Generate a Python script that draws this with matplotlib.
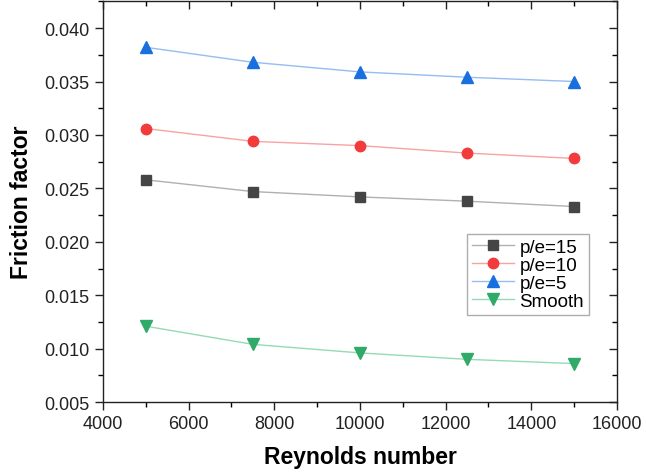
import matplotlib
matplotlib.use("Agg")
import matplotlib.pyplot as plt
from matplotlib.lines import TICKDOWN, TICKLEFT
from matplotlib.ticker import MultipleLocator

plt.rcParams['font.family'] = ['Liberation Sans', 'DejaVu Sans']

# Data
reynolds = [5000, 7500, 10000, 12500, 15000]
f_pe15 = [0.0258, 0.0247, 0.0242, 0.0238, 0.0233]
f_pe10 = [0.0306, 0.0294, 0.0290, 0.0283, 0.0278]
f_pe5 = [0.0382, 0.0368, 0.0359, 0.0354, 0.0350]
f_smooth = [0.0121, 0.0104, 0.0096, 0.0090, 0.0086]

series = [
    ("p/e=15", f_pe15, "s", 7, "#454545", "#b0b0b0"),
    ("p/e=10", f_pe10, "o", 7.5, "#f23b3b", "#f7a3a3"),
    ("p/e=5", f_pe5, "^", 8, "#1a6fe0", "#94bdf2"),
    ("Smooth", f_smooth, "v", 8, "#2faa68", "#94dbb4"),
]

fig = plt.figure(figsize=(6.46, 4.77), dpi=100)
ax = fig.add_axes([0.1594, 0.155, 0.7957, 0.8407])

for label, vals, marker, ms, mcolor, lcolor in series:
    ax.plot(reynolds, vals, color=lcolor, linewidth=1.0,
            marker=marker, markersize=ms, markerfacecolor=mcolor,
            markeredgecolor=mcolor, label=label)

ax.set_xlim(4000, 16000)
ax.set_ylim(0.005, 0.04253)
ax.xaxis.set_major_locator(MultipleLocator(2000))
ax.xaxis.set_minor_locator(MultipleLocator(1000))
ax.yaxis.set_major_locator(MultipleLocator(0.005))
ax.yaxis.set_minor_locator(MultipleLocator(0.0025))
ax.yaxis.set_major_formatter(plt.FormatStrFormatter('%.3f'))

ax.tick_params(axis='both', which='major', length=6, width=1.0,
               labelsize=13, colors='#222222')
ax.tick_params(axis='both', which='minor', length=3.5, width=1.0)
ax.tick_params(which='both', top=True, right=True)

# top and right ticks point inward, bottom/left outward
for t in ax.xaxis.get_major_ticks() + ax.xaxis.get_minor_ticks():
    t.tick2line.set_marker(TICKDOWN)
for t in ax.yaxis.get_major_ticks() + ax.yaxis.get_minor_ticks():
    t.tick2line.set_marker(TICKLEFT)

for s in ax.spines.values():
    s.set_linewidth(1.0)
    s.set_color('#222222')

ax.set_xlabel("Reynolds number", fontsize=16.5, fontweight='bold', labelpad=9)
ax.set_ylabel("Friction factor", fontsize=16.5, fontweight='bold', labelpad=8)

leg = ax.legend(loc='upper left', bbox_to_anchor=(0.708, 0.419),
                fontsize=13.5, frameon=True, fancybox=False,
                borderpad=0.25, labelspacing=0.05, handlelength=2.25,
                handletextpad=0.3, borderaxespad=0)
leg.get_frame().set_edgecolor('#999999')
leg.get_frame().set_linewidth(1.0)

fig.savefig("out.png", dpi=100)
